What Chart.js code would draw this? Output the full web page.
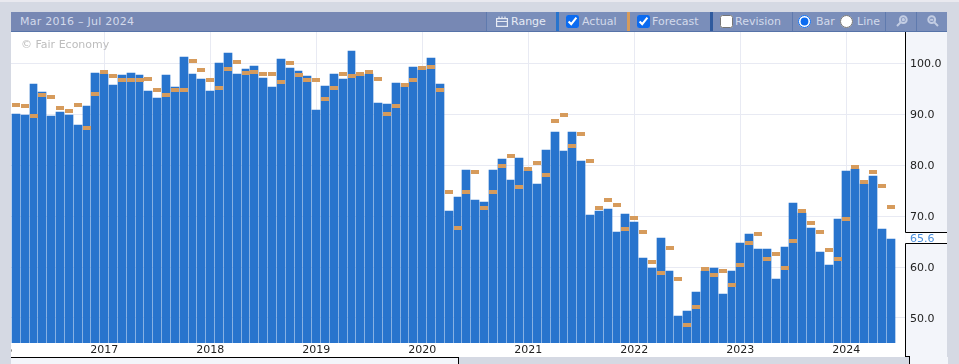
<!DOCTYPE html>
<html>
<head>
<meta charset="utf-8">
<title>Mar 2016 - Jul 2024</title>
<script src="https://cdn.jsdelivr.net/npm/chart.js@4"></script>
<style>
  html, body { margin: 0; padding: 0; }
  body { width: 959px; height: 364px; overflow: hidden; background: #d5d9e3; position: relative;
         font-family: "DejaVu Sans", sans-serif; font-size: 11px; }
  .abs { position: absolute; }
  #topstrip { left: 0; top: 0; width: 959px; height: 2px; background: #e9e9ef; }
  #header { left: 11px; top: 12px; width: 936px; height: 19px; background: #7788b4; border-bottom: 1px solid #5673a8; }
  #tools { left: 487px; top: 12px; width: 460px; height: 19px; background: #7a8eba; }
  .sep { top: 12px; width: 1px; height: 19px; background: #5f7aae; }
  .swatch { top: 12px; width: 3px; height: 19px; }
  .lbl { top: 15px; line-height: 13px; color: #d3daeb; white-space: nowrap; }
  input { position: absolute; margin: 0; width: 13px; height: 13px; top: 15px; accent-color: #0b6bf0; }
  svg { position: absolute; }
  #plotbg { left: 11px; top: 32px; width: 894px; height: 325px; background: #fff; }
  #panel { left: 905px; top: 32px; width: 42px; height: 325px; background: #f3f5fa; }
  #footer { left: 11px; top: 357px; width: 447px; height: 7px; background: #f3f5fa; border-top: 1px solid #000; border-right: 1px solid #000; }
  #rightfoot { left: 909px; top: 357px; width: 38px; height: 7px; background: #f3f5fa; border-left: 1px solid #000; }
  #rightstep { left: 905px; top: 356px; width: 5px; height: 1px; background: #000; }
  #chart { position: absolute; left: 11px; top: 32px; }
  #mark { left: 21px; top: 38px; color: #bdbdbd; line-height: 14px; }
</style>
</head>
<body>
<div class="abs" id="topstrip"></div>
<div class="abs" id="plotbg"></div>
<div class="abs" id="panel"></div>
<div class="abs" id="footer"></div>
<div class="abs" id="rightfoot"></div>
<div class="abs" id="rightstep"></div>

<div class="abs" id="header"></div>
<div class="abs" id="tools"></div>
<div class="abs lbl" style="left:20px;top:15px;letter-spacing:.25px">Mar 2016 – Jul 2024</div>

<div class="abs sep" style="left:486px"></div>
<svg style="left:496px;top:16px" width="12" height="11" viewBox="0 0 12 11" fill="none" stroke="#e6eaf4" stroke-width="1.2">
  <rect x="0.6" y="2.6" width="10.8" height="7.8"/><path d="M0.6 5.5h10.8M3 0.5v2M6 0.5v2M9 0.5v2"/>
</svg>
<div class="abs lbl" style="left:511px;color:#e6eaf4">Range</div>
<div class="abs swatch" style="left:556px;background:#2874cd"></div>
<input type="checkbox" checked style="left:566px">
<div class="abs lbl" style="left:582px">Actual</div>
<div class="abs swatch" style="left:627px;background:#d69b5c"></div>
<input type="checkbox" checked style="left:637px">
<div class="abs lbl" style="left:652px">Forecast</div>
<div class="abs swatch" style="left:710px;background:#2f5a9e"></div>
<input type="checkbox" style="left:720px">
<div class="abs lbl" style="left:735px">Revision</div>
<div class="abs sep" style="left:792px"></div>
<input type="radio" name="mode" checked style="left:798px">
<div class="abs lbl" style="left:816px">Bar</div>
<input type="radio" name="mode" style="left:840px">
<div class="abs lbl" style="left:857px">Line</div>
<div class="abs sep" style="left:885px"></div>
<svg style="left:896px;top:15px" width="12" height="12" viewBox="0 0 12 12" fill="none" stroke="#c3cde3" stroke-width="2">
  <circle cx="7.3" cy="4.7" r="3.4"/><path d="M4.6 7.4L1 11M5.7 4.7h3.2M7.3 3.1v3.2" />
</svg>
<div class="abs sep" style="left:916px"></div>
<svg style="left:927px;top:15px" width="12" height="12" viewBox="0 0 12 12" fill="none" stroke="#c3cde3" stroke-width="2">
  <circle cx="4.7" cy="4.7" r="3.4"/><path d="M7.4 7.4L11 11M3.1 4.7h3.2"/>
</svg>

<canvas id="chart" width="936" height="325"></canvas>
<div class="abs" id="mark">© Fair Economy</div>

<script>
// Valores, uno por mes
const actual = [
  90.1, 89.9, 95.9, 94.4, 89.7, 90.5, 89.9, 87.9, 91.6, 98.1,
  97.9, 95.7, 97.7, 98.1, 97.7, 94.6, 93.2, 97.7, 95.4, 101.2,
  97.9, 96.9, 94.6, 100.1, 102.0, 97.9, 98.9, 99.5, 97.1, 95.4,
  100.8, 99.1, 98.5, 97.5, 90.8, 95.6, 97.9, 96.9, 102.4, 97.5,
  97.9, 92.2, 92.0, 96.1, 95.4, 99.3, 98.7, 101.0, 95.9, 71.0,
  73.8, 79.1, 73.2, 72.8, 79.1, 81.2, 77.1, 81.4, 78.9, 76.3,
  83.0, 86.5, 82.8, 86.5, 80.8, 70.3, 71.0, 71.4, 66.9, 70.5,
  68.9, 61.8, 59.8, 65.7, 59.3, 50.3, 51.3, 55.1, 59.3, 59.8,
  54.7, 59.3, 64.7, 66.5, 63.6, 63.6, 57.7, 64.0, 72.5, 70.6,
  67.7, 63.0, 60.4, 69.4, 78.8, 79.2, 76.3, 77.8, 67.5, 65.6
];
const forecast = [
  91.8, 91.6, 89.7, 93.8, 93.4, 91.2, 90.6, 91.8, 87.2, 94.0,
  98.3, 97.5, 96.7, 96.7, 96.7, 96.9, 94.8, 93.8, 94.8, 94.8,
  100.5, 98.7, 96.7, 95.2, 98.9, 100.3, 98.1, 98.3, 97.9, 97.9,
  96.3, 100.1, 97.7, 96.7, 96.7, 93.0, 95.2, 97.9, 97.5, 97.9,
  98.3, 96.9, 90.1, 91.6, 95.7, 96.7, 99.1, 99.3, 94.8, 74.8,
  67.7, 74.8, 78.7, 71.6, 74.8, 79.9, 81.8, 75.7, 79.3, 80.5,
  78.1, 88.7, 89.9, 83.8, 86.1, 80.8, 71.6, 73.2, 72.2, 67.5,
  69.7, 66.9, 61.0, 58.9, 63.8, 57.7, 48.7, 52.2, 59.6, 58.5,
  59.3, 56.5, 60.4, 64.7, 66.5, 61.6, 62.6, 59.8, 65.1, 71.0,
  68.6, 66.9, 63.4, 61.6, 69.4, 79.6, 76.7, 78.6, 75.9, 71.8
];
const yearTicks = [-2, 10, 22, 34, 46, 58, 70, 82, 94]; // enero de cada año
const yearLabels = ["2016", "2017", "2018", "2019", "2020", "2021", "2022", "2023", "2024"];
const valueTicks = [50, 60, 70, 80, 90, 100];
const lastValue = actual[actual.length - 1];

// Marca de la previsión
const dash = document.createElement("canvas");
dash.width = 8;
dash.height = 4;
const dashCtx = dash.getContext("2d");
dashCtx.fillStyle = "#d69b5c";
dashCtx.fillRect(0, 0, 8, 4);

// Ajusta barras y marcas a pixel entero, con 1px de separación
const snapToPixels = {
  id: "snapToPixels",
  afterDatasetsUpdate(chart) {
    const puntos = chart.getDatasetMeta(0).data;
    const barras = chart.getDatasetMeta(1).data;
    const lefts = barras.map((b) => Math.round(b.x - 4.01));
    barras.forEach((b, i) => {
      const right = i + 1 < lefts.length ? lefts[i + 1] - 1 : lefts[i] + 8;
      b.x = (lefts[i] + right) / 2;
      b.width = right - lefts[i];
      b.y = Math.round(b.y);
    });
    puntos.forEach((p, i) => {
      p.x = lefts[i] + 4;
      p.y = Math.round(p.y);
    });
  },
  // Las etiquetas del eje Y van 1px más abajo que la línea
  beforeDraw(chart) {
    chart.scales.y.getLabelItems(chart.chartArea).forEach((item) => {
      item.options.translation[1] += 1;
    });
  },
};

// Borde negro del eje con el hueco del último valor
const axisBox = {
  id: "axisBox",
  afterDraw(chart) {
    const { ctx, chartArea, width } = chart;
    const y = chart.scales.y.getPixelForValue(lastValue);
    const x = Math.round(chartArea.right) + 0.5;
    const gapTop = Math.round(y) - 6.5;
    const gapBottom = Math.round(y) + 4.5;
    ctx.save();
    ctx.fillStyle = "#fff";
    ctx.fillRect(x, gapTop, width - x, gapBottom - gapTop);
    ctx.strokeStyle = "#000";
    ctx.lineWidth = 1;
    ctx.beginPath();
    ctx.moveTo(x, chartArea.top);
    ctx.lineTo(x, gapTop);
    ctx.lineTo(width, gapTop);
    ctx.moveTo(width, gapBottom);
    ctx.lineTo(x, gapBottom);
    ctx.lineTo(x, chart.height);
    ctx.stroke();
    ctx.fillStyle = "#4a8fdc";
    ctx.font = '11px "DejaVu Sans"';
    ctx.textBaseline = "middle";
    ctx.fillText(lastValue.toFixed(1), x + 4.5, y + 0.5);
    ctx.restore();
  },
};

new Chart(document.getElementById("chart"), {
  type: "bar",
  plugins: [snapToPixels, axisBox],
  data: {
    datasets: [
      {
        type: "line",
        label: "Forecast",
        data: forecast.map((v, i) => ({ x: i, y: v })),
        showLine: false,
        pointStyle: dash,
        pointRadius: 4,
        order: 0,
      },
      {
        label: "Actual",
        data: actual.map((v, i) => ({ x: i, y: v })),
        backgroundColor: "#2874cd",
        barThickness: 8,
        order: 1,
      },
    ],
  },
  options: {
    responsive: false,
    animation: false,
    layout: { padding: 0, autoPadding: false },
    plugins: { legend: { display: false }, tooltip: { enabled: false } },
    scales: {
      x: {
        type: "linear",
        offset: false,
        min: -0.566,
        max: 100.64,
        grid: { offset: false, color: "#e8eaf3", drawTicks: false },
        border: { display: false },
        ticks: {
          autoSkip: false,
          maxRotation: 0,
          padding: 1,
          color: "#222",
          font: { family: "DejaVu Sans", size: 11 },
          callback: (v) => yearLabels[yearTicks.indexOf(v)],
        },
        afterBuildTicks(scale) {
          scale.ticks = yearTicks.map((value) => ({ value }));
        },
        afterFit(scale) {
          scale.height = 14;
          scale.paddingLeft = 0;
          scale.paddingRight = 0;
        },
      },
      y: {
        position: "right",
        min: 45.09,
        max: 106.14,
        grid: { color: "#e8eaf3", drawTicks: false },
        border: { display: false },
        ticks: {
          padding: 5,
          color: "#222",
          font: { family: "DejaVu Sans", size: 11 },
          callback: (v) => v.toFixed(1),
        },
        afterBuildTicks(scale) {
          scale.ticks = valueTicks.map((value) => ({ value }));
        },
        afterFit(scale) {
          scale.width = 42;
          scale.paddingTop = 0;
          scale.paddingBottom = 0;
        },
      },
    },
  },
});
</script>
</body>
</html>
